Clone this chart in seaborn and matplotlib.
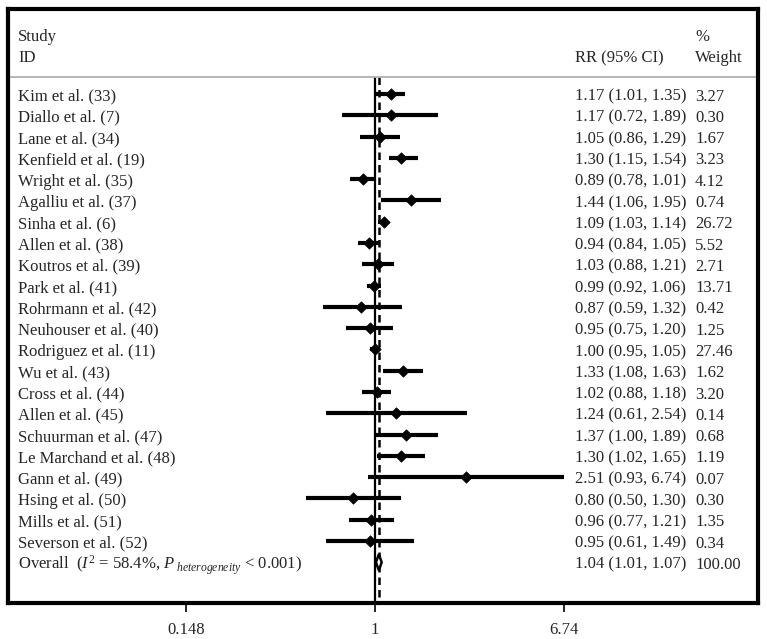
import numpy as np
import pandas as pd
import matplotlib
matplotlib.use("Agg")
import matplotlib.pyplot as plt
import matplotlib.transforms as mtransforms
import seaborn as sns

studies = ["Kim et al. (33)", "Diallo et al. (7)", "Lane et al. (34)", "Kenfield et al. (19)",
           "Wright et al. (35)", "Agalliu et al. (37)", "Sinha et al. (6)", "Allen et al. (38)",
           "Koutros et al. (39)", "Park et al. (41)", "Rohrmann et al. (42)", "Neuhouser et al. (40)",
           "Rodriguez et al. (11)", "Wu et al. (43)", "Cross et al. (44)", "Allen et al. (45)",
           "Schuurman et al. (47)", "Le Marchand et al. (48)", "Gann et al. (49)", "Hsing et al. (50)",
           "Mills et al. (51)", "Severson et al. (52)"]
rr = [1.17, 1.17, 1.05, 1.30, 0.89, 1.44, 1.09, 0.94, 1.03, 0.99, 0.87, 0.95,
      1.00, 1.33, 1.02, 1.24, 1.37, 1.30, 2.51, 0.80, 0.96, 0.95]
ci_lo = [1.01, 0.72, 0.86, 1.15, 0.78, 1.06, 1.03, 0.84, 0.88, 0.92, 0.59, 0.75,
         0.95, 1.08, 0.88, 0.61, 1.00, 1.02, 0.93, 0.50, 0.77, 0.61]
ci_hi = [1.35, 1.89, 1.29, 1.54, 1.01, 1.95, 1.14, 1.05, 1.21, 1.06, 1.32, 1.20,
         1.05, 1.63, 1.18, 2.54, 1.89, 1.65, 6.74, 1.30, 1.21, 1.49]
weights = [3.27, 0.30, 1.67, 3.23, 4.12, 0.74, 26.72, 5.52, 2.71, 13.71, 0.42, 1.25,
           27.46, 1.62, 3.20, 0.14, 0.68, 1.19, 0.07, 0.30, 1.35, 0.34]
overall_rr, overall_lo, overall_hi, overall_w = 1.04, 1.01, 1.07, 100.00
overall_label = r"Overall  ($I^2$ = 58.4%, $P_{\ heterogeneity}$ < 0.001)"
tick_vals = [0.148, 1, 6.74]

df = pd.DataFrame({"study": studies, "rr": rr, "lo": ci_lo, "hi": ci_hi, "w": weights})
df["row"] = np.arange(len(df))
overall_row = len(df)

sns.set_style("white")
plt.rcParams["font.family"] = ["Liberation Serif", "DejaVu Serif"]
plt.rcParams["mathtext.fontset"] = "custom"
plt.rcParams["mathtext.rm"] = "Liberation Serif"
plt.rcParams["mathtext.it"] = "Liberation Serif:italic"
plt.rcParams["font.size"] = 12

fig = plt.figure(figsize=(7.67, 6.39), dpi=100)
ax = fig.add_axes([8 / 767, 1 - 603 / 639, 750 / 767, 594 / 639])
ax.set_xscale("log")
ax.set_xlim(0.0246, 47.8)
ax.set_ylim(23.91, -3.99)

# confidence intervals
ax.hlines(df["row"], df["lo"], df["hi"], color="black", lw=3.0, zorder=2)
sns.scatterplot(data=df, x="rr", y="row", marker="D", s=34, color="black",
                edgecolor="black", linewidth=0.5, ax=ax, zorder=3, legend=False)

# overall diamond
h = 0.38
ax.fill([overall_lo, overall_rr, overall_hi, overall_rr],
        [overall_row, overall_row - h, overall_row, overall_row + h],
        facecolor="white", edgecolor="black", lw=1.8, zorder=4)

# reference lines
ax.vlines(1, -0.8, 23.91, color="black", lw=1.6, zorder=1)
ax.vlines(overall_rr, -0.8, 23.91, color="black", lw=1.8, linestyles=(0, (3, 2)), zorder=1)
ax.axhline(-0.8, color="#b0b0b0", lw=1.3, zorder=1)

# text columns
tr = mtransforms.blended_transform_factory(ax.transAxes, ax.transData)
x_lab, x_rr, x_w = 0.0133, 0.756, 0.916
ax.text(x_lab, -2.68, "Study", transform=tr, va="center")
ax.text(x_lab, -1.69, "ID", transform=tr, va="center")
ax.text(x_rr, -1.69, "RR (95% CI)", transform=tr, va="center")
ax.text(x_w, -2.68, "%", transform=tr, va="center")
ax.text(x_w, -1.69, "Weight", transform=tr, va="center")

for _, r in df.iterrows():
    y = r["row"] + 0.12
    ax.text(x_lab, y, r["study"], transform=tr, va="center")
    ax.text(x_rr, y, f"{r['rr']:.2f} ({r['lo']:.2f}, {r['hi']:.2f})", transform=tr, va="center")
    ax.text(x_w, y, f"{r['w']:.2f}", transform=tr, va="center")

y = overall_row + 0.12
ax.text(x_lab, y, overall_label, transform=tr, va="center")
ax.text(x_rr, y, f"{overall_rr:.2f} ({overall_lo:.2f}, {overall_hi:.2f})", transform=tr, va="center")
ax.text(x_w, y, f"{overall_w:.2f}", transform=tr, va="center")

# axes styling
ax.set_xticks(tick_vals)
ax.set_xticklabels([f"{v:g}" for v in tick_vals])
ax.xaxis.set_minor_locator(matplotlib.ticker.NullLocator())
ax.set_yticks([])
ax.set_xlabel("")
ax.set_ylabel("")
ax.tick_params(axis="x", direction="out", length=6.5, width=1.2, pad=7,
               labelsize=12, bottom=True, color="black")
for sp in ax.spines.values():
    sp.set_visible(True)
    sp.set_color("black")
    sp.set_linewidth(3.0)

fig.savefig("out.png", dpi=100)
